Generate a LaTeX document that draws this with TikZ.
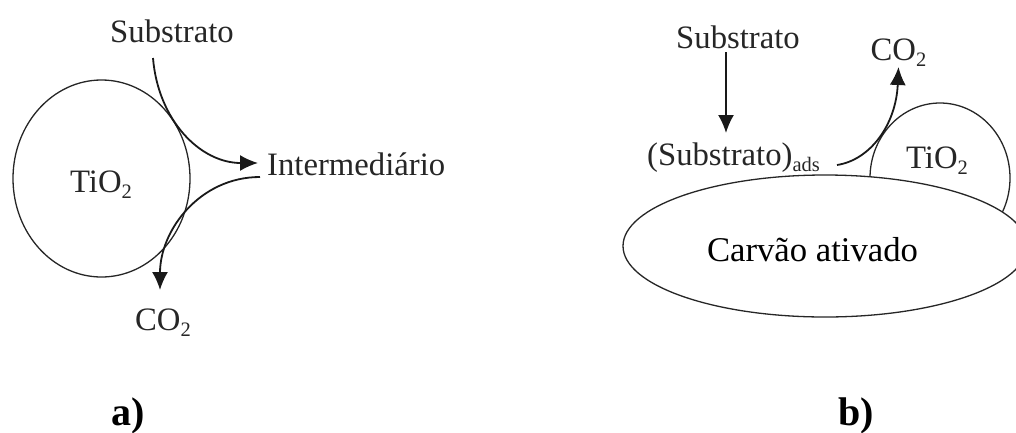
\documentclass[tikz,border=0pt]{standalone}
\usepackage{fontspec}
\setmainfont{Liberation Serif}
\usetikzlibrary{arrows.meta,shapes.geometric,calc}
\newcommand\lowsub[1]{\raisebox{-0.2em}{\fontsize{20.5}{22}\selectfont #1}}
\begin{document}
\begin{tikzpicture}[x=1pt,y=-1pt,
  lbl/.style={inner sep=0pt,text=black!85,font=\fontsize{32.7}{39}\selectfont},
  big/.style={inner sep=0pt,text=black,font=\fontsize{34.7}{41}\selectfont},
  tag/.style={inner sep=0pt,text=black,font=\fontsize{40}{48}\selectfont\bfseries},
  shp/.style={draw=black!85,line width=1.3pt,ellipse,inner sep=0pt},
  arr/.style={draw=black!90,line width=1.8pt,-{Latex[length=18pt,width=16pt]}}]
\useasboundingbox (0,0) rectangle (1016,432);
\clip (0,0) rectangle (1016,432);
% ---------- a) ----------
\node[shp,minimum width=177pt,minimum height=197pt] (tioA) at (101.5,178.5) {};
\node[lbl,anchor=base] (tioAt) at (101,192) {TiO\lowsub{2}};
\node[lbl,anchor=base] (subA) at (172,42) {Substrato};
\node[lbl,anchor=base west] (inter) at (267,175) {Intermediário};
\node[lbl,anchor=base] (co2A) at (163,330) {CO\lowsub{2}};
\coordinate (a1) at ($(subA.base)+(-19,16)$);
\coordinate (a2) at ($(inter.base west)+(-9,-12)$);
\coordinate (a3) at ($(inter.base west)+(-7,2)$);
\coordinate (a4) at ($(co2A.base)+(-3,-40)$);
\draw[arr] (a1) .. controls (158,120) and (200,163) .. (a2);
\draw[arr] (a3) .. controls (200,177) and (160,230) .. (a4);
\node[tag,anchor=base] (la) at (128,425) {a)};
% ---------- b) ----------
\node[shp,minimum width=140pt,minimum height=150pt] (tioB) at (940,178) {};
\node[shp,fill=white,minimum width=404pt,minimum height=142pt] (carv) at (825,246) {};
\node[big,anchor=base] (carvt) at (812.5,261) {Carvão ativado};
\node[lbl,anchor=base] (tioBt) at (937,168) {TiO\lowsub{2}};
\node[lbl,anchor=base] (subB) at (738,48) {Substrato};
\node[lbl,anchor=base west] (ads) at (647,165) {(Substrato)\lowsub{ads}};
\node[lbl,anchor=base] (co2B) at (898.5,60) {CO\lowsub{2}};
\coordinate (b1) at ($(subB.base)+(-12,4)$);
\coordinate (b2) at ($(ads.base west)+(79,-32)$);
\coordinate (b3) at ($(ads.base west)+(190,0)$);
\coordinate (b4) at ($(co2B.base)+(0,7)$);
\draw[arr] (b1) -- (b2);
\draw[arr] (b3) .. controls (870,160) and (896,125) .. (b4);
\node[tag,anchor=base] (lb) at (856,425) {b)};
\end{tikzpicture}
\end{document}
